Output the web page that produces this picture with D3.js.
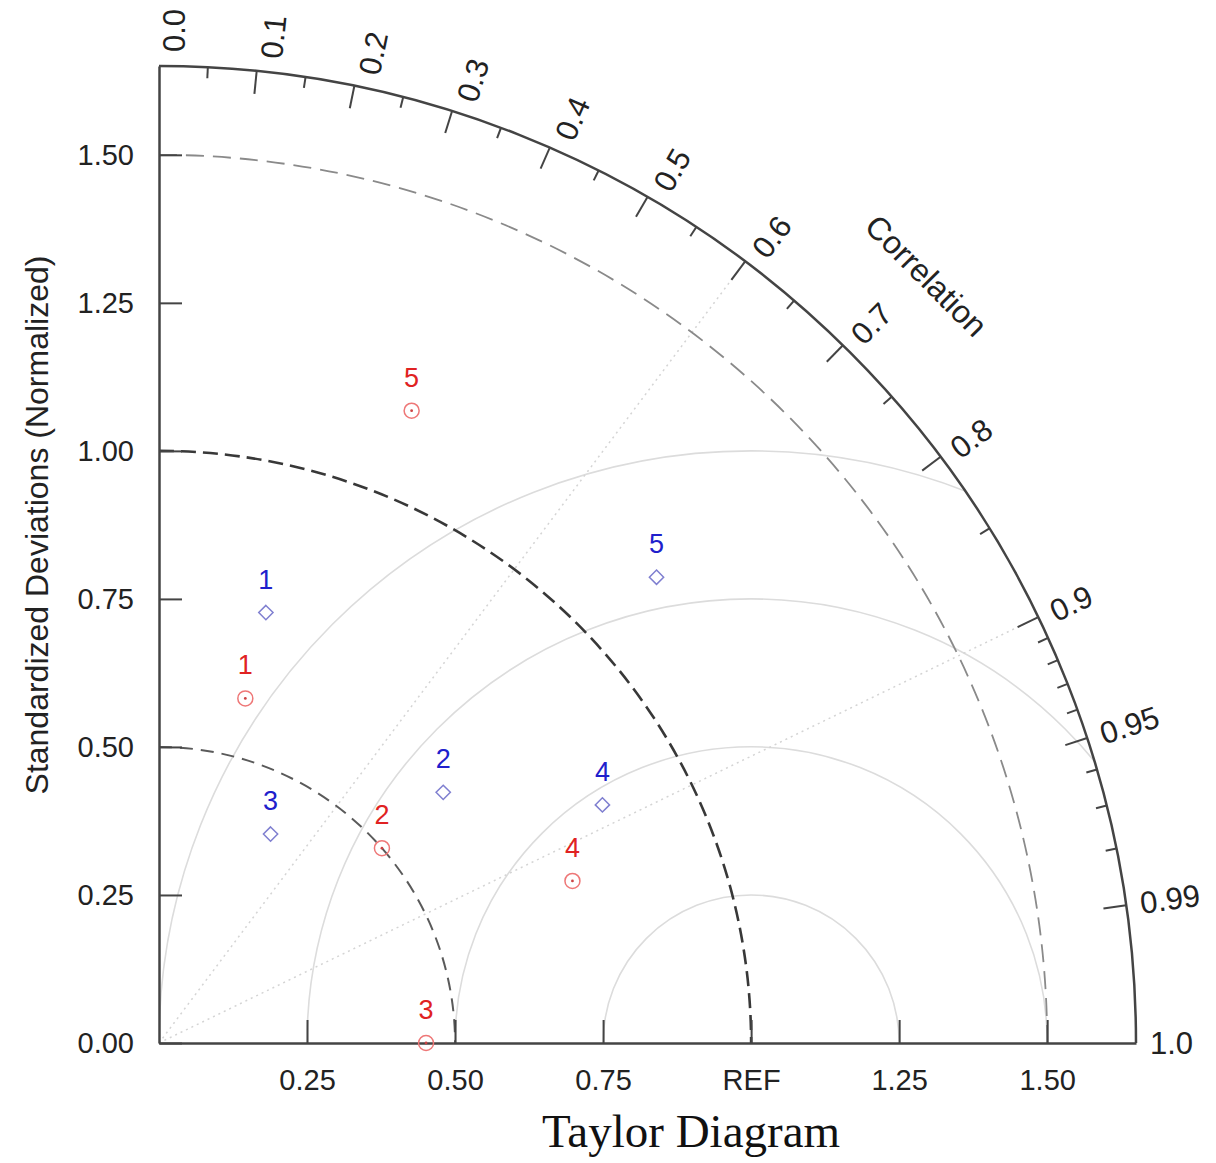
<!DOCTYPE html>
<html>
<head>
    <meta charset="utf-8">
    <style>
        body {
            margin: 0;
            background: #fff;
        }

        svg {
            display: block;
            font-family: 'Liberation Sans', Arial, Helvetica, sans-serif;
        }

        .axis .domain {
            stroke: #444;
            stroke-width: 2.5;
        }

        .axis .tick line {
            stroke: #444;
            stroke-width: 2;
        }

        .axis .tick text {
            font-size: 29px;
            fill: #222;
            font-family: 'Liberation Sans', Arial, Helvetica, sans-serif;
        }

        .corr-label {
            font-size: 31px;
            fill: #222;
        }

        .axis-title {
            font-size: 32px;
            fill: #222;
        }

        .title {
            font-family: 'Liberation Serif', 'Times New Roman', serif;
            font-size: 47px;
            fill: #111;
        }

        .mark-label {
            font-size: 27px;
        }
    </style>
</head>

<body>
    <svg width="1216" height="1163"></svg>
</body>

<script src="https://d3js.org/d3.v7.min.js"></script>

<script>
    // ---- data ----
    const corrMajor = [0.0, 0.1, 0.2, 0.3, 0.4, 0.5, 0.6, 0.7, 0.8, 0.9, 0.95, 0.99, 1.0];
    const corrMajorLabels = ["0.0", "0.1", "0.2", "0.3", "0.4", "0.5", "0.6", "0.7", "0.8", "0.9", "0.95", "0.99", "1.0"];
    const corrMinor = [0.05, 0.15, 0.25, 0.35, 0.45, 0.55, 0.65, 0.75, 0.85, 0.91, 0.92, 0.93, 0.94, 0.96, 0.97, 0.98];

    const stdTicks = [0, 0.25, 0.5, 0.75, 1.0, 1.25, 1.5];
    const stdTickLabels = ["0.00", "0.25", "0.50", "0.75", "1.00", "1.25", "1.50"];
    const xTicks = [0.25, 0.5, 0.75, 1.0, 1.25, 1.5];
    const xTickLabels = ["0.25", "0.50", "0.75", "REF", "1.25", "1.50"];

    const stdArcs = [0.5, 1.0, 1.5];
    const rmsArcs = [0.25, 0.5, 0.75, 1.0];
    const corrRays = [0.6, 0.9];

    const caseIds = ["1", "2", "3", "4", "5"];
    const redStd = [0.60, 0.50, 0.451, 0.75, 1.15];
    const redCorr = [0.243, 0.753, 1.0, 0.931, 0.371];
    const blueStd = [0.749, 0.64, 0.40, 0.85, 1.151];
    const blueCorr = [0.241, 0.75, 0.471, 0.881, 0.730];

    const maxStd = 1.65;

    let svg = d3.select("body").select("svg");

    let origin = { x: 159, y: 1043 };

    // radial scale in px
    let r = d3.scaleLinear()
        .domain([0, maxStd])
        .range([0, 977]);

    let R = r(maxStd);

    let x = d3.scaleLinear()
        .domain([0, maxStd])
        .range([origin.x, origin.x + R]);

    let y = d3.scaleLinear()
        .domain([0, maxStd])
        .range([origin.y, origin.y - R]);

    function polar(std, corr) {
        let th = Math.acos(Math.min(1, corr));
        return [origin.x + r(std) * Math.cos(th), origin.y - r(std) * Math.sin(th)];
    }

    // clip to quarter disc
    let clipPath = d3.path();
    clipPath.moveTo(origin.x, origin.y);
    clipPath.lineTo(origin.x, origin.y - R);
    clipPath.arc(origin.x, origin.y, R, -Math.PI / 2, 0);
    clipPath.closePath();

    svg.append("clipPath")
        .attr("id", "quarter")
        .append("path")
        .attr("d", clipPath.toString());

    let inner = svg.append("g").attr("clip-path", "url(#quarter)");

    // RMS arcs around REF
    inner.selectAll(".rms")
        .data(rmsArcs)
        .join("path")
        .attr("class", "rms")
        .attr("d", d => {
            let p = d3.path();
            let cx = x(1.0);
            p.moveTo(cx - r(d), origin.y);
            p.arc(cx, origin.y, r(d), Math.PI, 2 * Math.PI);
            return p.toString();
        })
        .style("fill", "none")
        .style("stroke", "#dcdcdc")
        .style("stroke-width", 1.6);

    // correlation rays
    inner.selectAll(".ray")
        .data(corrRays)
        .join("line")
        .attr("class", "ray")
        .attr("x1", origin.x)
        .attr("y1", origin.y)
        .attr("x2", d => polar(maxStd, d)[0])
        .attr("y2", d => polar(maxStd, d)[1])
        .style("stroke", "#d4d4d4")
        .style("stroke-width", 1.5)
        .style("stroke-dasharray", "2,4");

    // std dev dashed arcs
    let arcStyle = {
        0.5: { c: "#5a5a5a", w: 2, dash: "13,8" },
        1.0: { c: "#383838", w: 2.6, dash: "15,7" },
        1.5: { c: "#8a8a8a", w: 1.8, dash: "18,9" }
    };

    inner.selectAll(".std-arc")
        .data(stdArcs)
        .join("path")
        .attr("class", "std-arc")
        .attr("d", d => {
            let p = d3.path();
            p.moveTo(origin.x, origin.y - r(d));
            p.arc(origin.x, origin.y, r(d), -Math.PI / 2, 0);
            return p.toString();
        })
        .style("fill", "none")
        .style("stroke", d => arcStyle[d].c)
        .style("stroke-width", d => arcStyle[d].w)
        .style("stroke-dasharray", d => arcStyle[d].dash);

    // axes
    let yAxis = d3.axisLeft(y)
        .tickValues(stdTicks)
        .tickFormat((d, i) => stdTickLabels[i])
        .tickSize(-23)
        .tickSizeOuter(0)
        .tickPadding(25);

    svg.append("g")
        .attr("class", "y axis")
        .attr("transform", `translate(${origin.x},0)`)
        .call(yAxis);

    let xAxis = d3.axisBottom(x)
        .tickValues(xTicks)
        .tickFormat((d, i) => xTickLabels[i])
        .tickSize(-23)
        .tickSizeOuter(0)
        .tickPadding(26);

    svg.append("g")
        .attr("class", "x axis")
        .attr("transform", `translate(0,${origin.y})`)
        .call(xAxis);

    // outer arc
    let outer = d3.path();
    outer.moveTo(origin.x, origin.y - R);
    outer.arc(origin.x, origin.y, R, -Math.PI / 2, 0);
    svg.append("path")
        .attr("d", outer.toString())
        .style("fill", "none")
        .style("stroke", "#444")
        .style("stroke-width", 2.5);

    // correlation ticks (pointing inward)
    function tickLine(sel, len) {
        sel.attr("x1", d => polar(maxStd, d)[0])
            .attr("y1", d => polar(maxStd, d)[1])
            .attr("x2", d => polar(maxStd - len / r(1), d)[0])
            .attr("y2", d => polar(maxStd - len / r(1), d)[1])
            .style("stroke", "#444")
            .style("stroke-width", 2);
    }

    svg.append("g").selectAll("line")
        .data(corrMajor.filter(d => d > 0 && d < 1))
        .join("line")
        .call(tickLine, 23);

    svg.append("g").selectAll("line")
        .data(corrMinor)
        .join("line")
        .call(tickLine, 11);

    // correlation labels
    svg.append("g").selectAll("text")
        .data(corrMajor)
        .join("text")
        .attr("class", "corr-label")
        .attr("transform", d => {
            let th = Math.acos(d);
            let p = polar(maxStd + 14 / r(1), d);
            return `translate(${p[0]},${p[1]}) rotate(${-th * 180 / Math.PI})`;
        })
        .attr("dy", d => {
            let th = Math.acos(d);
            return 15 * Math.pow(th / (Math.PI / 2), 1.5);
        })
        .attr("dominant-baseline", "central")
        .attr("text-anchor", "start")
        .text((d, i) => corrMajorLabels[i]);

    let cl = polar(maxStd + 108 / r(1), Math.cos(Math.PI / 4));
    svg.append("text")
        .attr("class", "axis-title")
        .attr("transform", `translate(${cl[0]},${cl[1]}) rotate(45)`)
        .attr("text-anchor", "middle")
        .attr("dominant-baseline", "central")
        .text("Correlation");

    svg.append("text")
        .attr("class", "axis-title")
        .attr("transform", `translate(37,525) rotate(-90)`)
        .attr("text-anchor", "middle")
        .attr("dominant-baseline", "central")
        .text("Standardized Deviations (Normalized)");

    // markers
    let red = caseIds.map((id, i) => ({ id: id, p: polar(redStd[i], redCorr[i]) }));
    let blue = caseIds.map((id, i) => ({ id: id, p: polar(blueStd[i], blueCorr[i]) }));

    let redG = svg.append("g");
    redG.selectAll("circle.ring")
        .data(red)
        .join("circle")
        .attr("class", "ring")
        .attr("cx", d => d.p[0])
        .attr("cy", d => d.p[1])
        .attr("r", 7.5)
        .style("fill", "none")
        .style("stroke", "#ee7777")
        .style("stroke-width", 1.5);

    redG.selectAll("circle.dot")
        .data(red)
        .join("circle")
        .attr("class", "dot")
        .attr("cx", d => d.p[0])
        .attr("cy", d => d.p[1])
        .attr("r", 1.4)
        .style("fill", "#cc4444");

    redG.selectAll("text")
        .data(red)
        .join("text")
        .attr("class", "mark-label")
        .attr("x", d => d.p[0])
        .attr("y", d => d.p[1] - 24)
        .attr("text-anchor", "middle")
        .style("fill", "#e02222")
        .text(d => d.id);

    let blueG = svg.append("g");
    blueG.selectAll("path")
        .data(blue)
        .join("path")
        .attr("d", d3.symbol(d3.symbolDiamond2, 130))
        .attr("transform", d => `translate(${d.p[0]},${d.p[1]})`)
        .style("fill", "none")
        .style("stroke", "#7f7fd0")
        .style("stroke-width", 1.5);

    blueG.selectAll("text")
        .data(blue)
        .join("text")
        .attr("class", "mark-label")
        .attr("x", d => d.p[0])
        .attr("y", d => d.p[1] - 24)
        .attr("text-anchor", "middle")
        .style("fill", "#2020cc")
        .text(d => d.id);

    // title
    svg.append("text")
        .attr("class", "title")
        .attr("x", 691)
        .attr("y", 1147)
        .attr("text-anchor", "middle")
        .text("Taylor Diagram");
</script>
</html>
